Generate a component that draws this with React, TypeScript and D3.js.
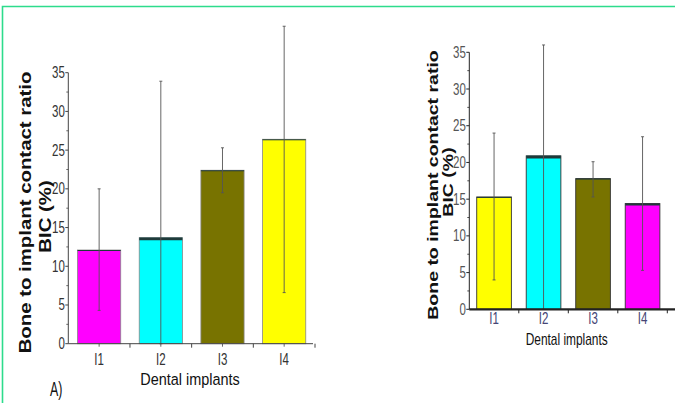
import React from "react";
import * as d3 from "d3";

const categories = ["I1", "I2", "I3", "I4"];
const leftValues = [12.1, 13.7, 22.4, 26.4];
const leftErrHigh = [20, 33.9, 25.3, 41];
const leftErrLow = [4.3, 0, 19.5, 6.6];
const leftColors = ["#ff00ff", "#00ffff", "#787300", "#ffff00"];
const rightValues = [15.3, 20.9, 17.8, 14.4];
const rightErrHigh = [24, 36, 20.1, 23.5];
const rightErrLow = [4, 0, 15.3, 5.3];
const rightColors = ["#ffff00", "#00ffff", "#787300", "#ff00ff"];
const yTicks = [0, 5, 10, 15, 20, 25, 30, 35];
const yMinorTicks = [2.5, 7.5, 12.5, 17.5, 22.5, 27.5, 32.5];
const yLabel1 = "Bone to implant contact ratio";
const yLabel2 = "BIC (%)";
const xLabel = "Dental implants";
const panelLabel = "A)";

const FONT = "'Liberation Sans', Arial, Helvetica, sans-serif";

type TProps = {
  x: number; y: number; sx?: number; rot?: number; size: number;
  anchor?: "start" | "middle" | "end"; weight?: string; fill?: string; children: string;
};
function T({ x, y, sx = 1, rot = 0, size, anchor = "middle", weight = "normal", fill = "#222", children }: TProps) {
  return (
    <text
      transform={`translate(${x},${y}) rotate(${rot}) scale(${sx},1)`}
      textAnchor={anchor}
      fontFamily={FONT}
      fontSize={size}
      fontWeight={weight}
      fill={fill}
    >
      {children}
    </text>
  );
}

type PanelProps = {
  x0: number; x1: number; axisEnd: number; yTop: number; yBottom: number;
  values: number[]; hi: number[]; lo: number[]; colors: string[];
  right: boolean;
};

function Panel({ x0, x1, axisEnd, yTop, yBottom, values, hi, lo, colors, right }: PanelProps) {
  const x = d3.scaleBand<string>().domain(categories).range([x0, x1]).paddingInner(0.3).paddingOuter(0.15);
  const y = d3.scaleLinear().domain([0, 35]).range([yBottom, yTop]);
  const step = x.step();
  const bw = x.bandwidth();
  const axisColor = right ? "#222" : "#444";
  const yTickColor = right ? "#555" : "#333";
  const xTickColor = right ? "#454575" : "#333";
  return (
    <g>
      {categories.map((c, i) => {
        const bx = x(c)!;
        const by = y(values[i]);
        const thick = c === "I2" ? 2.6 : right && c === "I4" ? 2 : 1;
        return (
          <g key={c}>
            <rect x={bx} y={by} width={bw} height={y(0) - by} fill={colors[i]}
              stroke={right ? "#333" : "#888"} strokeWidth={right ? 0.9 : 0.8} />
            <line x1={bx} x2={bx + bw} y1={by + thick / 2} y2={by + thick / 2}
              stroke="#1f3a3a" strokeWidth={thick} />
          </g>
        );
      })}
      {categories.map((c, i) => {
        const cx = x(c)! + bw / 2;
        return (
          <g key={"e" + c} stroke="#555" strokeWidth={0.9}>
            <line x1={cx} x2={cx} y1={y(hi[i])} y2={y(lo[i])} />
            <line x1={cx - 1.5} x2={cx + 1.5} y1={y(hi[i])} y2={y(hi[i])} />
            <line x1={cx - 1.5} x2={cx + 1.5} y1={y(lo[i])} y2={y(lo[i])} />
          </g>
        );
      })}
      <line x1={x0} x2={x0} y1={yTop} y2={yBottom} stroke={axisColor} strokeWidth={1} />
      {yTicks.map((t) => (
        <g key={"yt" + t}>
          <line x1={x0 - 3} x2={x0} y1={y(t)} y2={y(t)} stroke={axisColor} strokeWidth={1} />
          <T x={x0 - 3.5} y={y(t) + 5.5} size={16} sx={0.72} anchor="end" fill={yTickColor}>{String(t)}</T>
        </g>
      ))}
      {yMinorTicks.map((t) => (
        <line key={"ym" + t} x1={x0 - 2} x2={x0} y1={y(t)} y2={y(t)} stroke={axisColor} strokeWidth={0.8} />
      ))}
      <line x1={x0} x2={axisEnd} y1={yBottom} y2={yBottom} stroke={axisColor} strokeWidth={right ? 2.2 : 1} />
      {[1, 2, 3, 4].map((k) => (
        <line key={"xb" + k} x1={x0 + step * k} x2={x0 + step * k} y1={yBottom} y2={yBottom + 4}
          stroke={axisColor} strokeWidth={1} />
      ))}
      {!right && categories.map((c) => (
        <line key={"xc" + c} x1={x(c)! + bw / 2} x2={x(c)! + bw / 2} y1={yBottom} y2={yBottom + 3}
          stroke={axisColor} strokeWidth={0.8} />
      ))}
      {categories.map((c) => (
        <T key={"xl" + c} x={x(c)! + bw / 2} y={yBottom + (right ? 15 : 21)} size={16} sx={0.72} fill={xTickColor}>{c}</T>
      ))}
    </g>
  );
}

export default function App() {
  return (
    <div style={{ position: "fixed", left: 0, top: 0 }}>
      <svg width={675} height={403} viewBox="0 0 675 403" style={{ display: "block", background: "#fff" }}>
        <rect x={0} y={0} width={675} height={403} fill="#fff" />
        <path d="M2.5,403 L2.5,6.5 L675,6.5" fill="none" stroke="#2ddc8c" strokeWidth={1.6} />

        <Panel x0={68.3} x1={315} axisEnd={313} yTop={72.7} yBottom={343.7}
          values={leftValues} hi={leftErrHigh} lo={leftErrLow} colors={leftColors} right={false} />
        <T x={30.6} y={212.5} rot={-90} sx={1.29} size={15.8} weight="bold" fill="#111">{yLabel1}</T>
        <T x={50.6} y={216.5} rot={-90} sx={1.29} size={15.8} weight="bold" fill="#111">{yLabel2}</T>
        <T x={190} y={385} size={17} sx={0.85} fill="#111">{xLabel}</T>
        <T x={50} y={396} size={20} sx={0.62} anchor="start" fill="#111">{panelLabel}</T>

        <Panel x0={469.3} x1={667.3} axisEnd={675} yTop={52.3} yBottom={309.3}
          values={rightValues} hi={rightErrHigh} lo={rightErrLow} colors={rightColors} right={true} />
        <T x={437.5} y={185} rot={-90} sx={1.3} size={15} weight="bold" fill="#111">{yLabel1}</T>
        <T x={453} y={182} rot={-90} sx={1.3} size={15} weight="bold" fill="#111">{yLabel2}</T>
        <T x={566.7} y={345} size={16} sx={0.745} fill="#111">{xLabel}</T>
      </svg>
    </div>
  );
}
